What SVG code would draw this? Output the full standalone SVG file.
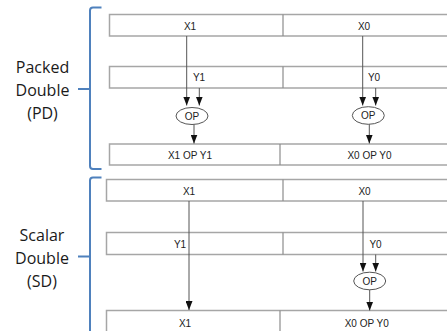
<svg xmlns="http://www.w3.org/2000/svg" width="447" height="331" viewBox="0 0 447 331">
<style>
.box{fill:#fff;stroke:#a6a6a6;stroke-width:1.5}
.div{stroke:#8c8c8c;stroke-width:1.2}
.lbl{font-family:"Liberation Sans",Arial,sans-serif;font-size:10px;fill:#222;text-anchor:middle}
.big{font-family:"Open Sans","Noto Sans",sans-serif;font-size:16px;fill:#1a1a1a;text-anchor:middle}
.arr{stroke:#555;stroke-width:1;fill:none;marker-end:url(#ah)}
.op{fill:#fff;stroke:#555;stroke-width:1}
.brace{fill:none;stroke:#4f81bd;stroke-width:2}
</style>
<defs>
<marker id="ah" markerUnits="userSpaceOnUse" markerWidth="9" markerHeight="7" refX="9" refY="3.5" orient="auto" viewBox="0 0 9 7">
<path d="M0,0 L9,3.5 L0,7 z" fill="#111"/>
</marker>
</defs>
<rect width="447" height="331" fill="#fff"/>

<g id="labels">
<g id="pd-label">
<path class="brace" d="M101.5,7.5 L93,7.5 Q90,7.5 90,10.5 L90,166 Q90,169 93,169 L101.5,169 M78,89 L90,89"/>
<text class="big" x="42.5" y="73">Packed</text>
<text class="big" x="42.5" y="96">Double</text>
<text class="big" x="42.5" y="119">(PD)</text>
</g>
<g id="sd-label">
<path class="brace" d="M101.5,177.5 L93,177.5 Q90,177.5 90,180.5 L90,335 M78,256.5 L90,256.5"/>
<text class="big" x="42" y="241">Scalar</text>
<text class="big" x="42" y="264">Double</text>
<text class="big" x="42" y="287">(SD)</text>
</g>
</g>

<g id="pd-x">
<rect class="box" x="109.5" y="14.5" width="345" height="21.5"/>
<line class="div" x1="283" y1="14.5" x2="283" y2="36"/>
<text class="lbl" x="190" y="30">X1</text>
<text class="lbl" x="364" y="30">X0</text>
</g>
<g id="pd-y">
<rect class="box" x="109.5" y="66.5" width="345" height="21.5"/>
<line class="div" x1="283" y1="66.5" x2="283" y2="88"/>
<text class="lbl" x="199" y="81">Y1</text>
<text class="lbl" x="374" y="81">Y0</text>
</g>
<g id="pd-op1">
<ellipse class="op" cx="192" cy="116" rx="16" ry="8.5"/>
<text class="lbl" x="192" y="119.5">OP</text>
</g>
<g id="pd-op0">
<ellipse class="op" cx="368.3" cy="115.5" rx="16" ry="8.8"/>
<text class="lbl" x="368.3" y="119">OP</text>
</g>
<g id="pd-r">
<rect class="box" x="109.5" y="144" width="345" height="21"/>
<line class="div" x1="280" y1="144" x2="280" y2="165"/>
<text class="lbl" x="190" y="158.5">X1 OP Y1</text>
<text class="lbl" x="369.5" y="158.5">X0 OP Y0</text>
</g>

<g id="sd-x">
<rect class="box" x="106.5" y="179.5" width="345" height="21.5"/>
<line class="div" x1="283" y1="179.5" x2="283" y2="201"/>
<text class="lbl" x="189" y="195">X1</text>
<text class="lbl" x="364.5" y="195">X0</text>
</g>
<g id="sd-y">
<rect class="box" x="106.5" y="232.5" width="345" height="22"/>
<line class="div" x1="283" y1="232.5" x2="283" y2="254.5"/>
<text class="lbl" x="180" y="247.5">Y1</text>
<text class="lbl" x="375.5" y="247.5">Y0</text>
</g>
<g id="sd-op0">
<ellipse class="op" cx="369.7" cy="281" rx="16" ry="8.8"/>
<text class="lbl" x="369.7" y="284.5">OP</text>
</g>
<g id="sd-r">
<rect class="box" x="106.5" y="310.5" width="345" height="30"/>
<line class="div" x1="280" y1="310.5" x2="280" y2="335"/>
<text class="lbl" x="185" y="326.5">X1</text>
<text class="lbl" x="366.7" y="326.5">X0 OP Y0</text>
</g>

<g id="connectors">
<line class="arr" x1="186.7" y1="36" x2="186.7" y2="105.5"/>
<line class="arr" x1="199.3" y1="88" x2="199.3" y2="105.5"/>
<line class="arr" x1="194" y1="124.5" x2="194" y2="143.5"/>
<line class="arr" x1="362.7" y1="36" x2="362.7" y2="105.5"/>
<line class="arr" x1="375.7" y1="88" x2="375.7" y2="105.5"/>
<line class="arr" x1="369.3" y1="124.3" x2="369.3" y2="143.5"/>
<line class="arr" x1="189" y1="201" x2="189" y2="310"/>
<line class="arr" x1="363" y1="201" x2="363" y2="271.5"/>
<line class="arr" x1="375.7" y1="254.5" x2="375.7" y2="271.5"/>
<line class="arr" x1="369.7" y1="289.8" x2="369.7" y2="310.5"/>
</g>
</svg>
